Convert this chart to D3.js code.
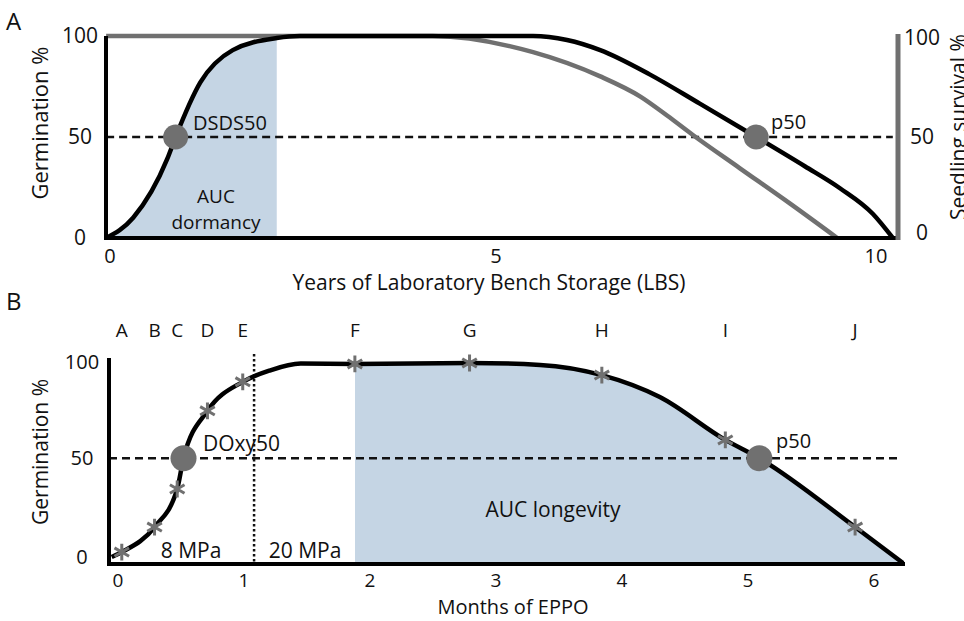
<!DOCTYPE html>
<html>
<head>
<meta charset="utf-8">
<script src="https://cdn.jsdelivr.net/npm/d3@7"></script>
<style>
  body { margin: 0; background: #fff; }
  text { font-family: "Open Sans", sans-serif; fill: #111; }
</style>
</head>
<body>
<div id="fig"></div>
<script>
// panel A : germination (black) and seedling survival (gray) vs years of LBS
var yearsGerm = [-0.05, 0.30, 0.74, 0.85, 1.17, 1.59, 2.16, 2.46, 5.48, 5.92, 6.35, 6.99, 7.64, 8.37, 9.0, 9.46, 9.88, 10.14];
var germA     = [0, 10, 39, 50, 77, 93, 99, 100, 100, 98, 93, 81, 66.5, 50, 35.5, 24.5, 12, 0];
var yearsSurv = [-0.05, 2.0, 4.18, 5.48, 6.35, 6.87, 7.22, 7.55, 8.16, 8.81, 9.42];
var survA     = [100, 100, 100, 92, 80, 70, 60.5, 51, 34.5, 17, 0];
var dsds50 = [0.85, 50];
var p50A = [8.37, 50];
var dormancyEnd = 2.16;
var xTicksA = [0, 5, 10];
var yTicks = [0, 50, 100];

// panel B : germination vs months of EPPO
var monthsB = [-0.05, 0.03, 0.29, 0.47, 0.52, 0.71, 0.99, 1.2, 1.45, 1.88, 2.79, 3.35, 3.84, 4.3, 4.82, 5.09, 5.85, 6.23];
var germB   = [-1.4, 1.2, 14.2, 34, 50, 74.6, 89.7, 95.5, 99.2, 99, 99.5, 98.5, 93.2, 81.8, 59.5, 50, 14.2, -4.5];
var sampleNames  = ["A", "B", "C", "D", "E", "F", "G", "H", "I", "J"];
var sampleMonths = [0.03, 0.29, 0.47, 0.71, 0.99, 1.88, 2.79, 3.84, 4.82, 5.85];
var sampleGerm   = [1.2, 14.2, 34, 74.6, 89.7, 99, 99.5, 93.2, 59.5, 14.2];
var doxy50 = [0.52, 50];
var p50B = [5.09, 50];
var mpaSwitch = 1.08;
var longevityStart = 1.88;
var xTicksB = [0, 1, 2, 3, 4, 5, 6];

var width = 964, height = 621;
var gray = "#707070", blue = "#c5d5e4";

var svg = d3.select("#fig").append("svg")
    .attr("width", width)
    .attr("height", height);

// ---------- panel A ----------
var xA = d3.scaleLinear().domain([0, 10]).range([110, 882]);
var yA = d3.scaleLinear().domain([0, 100]).range([238, 36]);

var lineA = d3.line().curve(d3.curveMonotoneX)
    .x(function(d){ return xA(d[0]); })
    .y(function(d){ return yA(d[1]); });
var areaA = d3.area().curve(d3.curveMonotoneX)
    .x(function(d){ return xA(d[0]); })
    .y0(yA(0))
    .y1(function(d){ return yA(d[1]); });

var germPtsA = d3.zip(yearsGerm, germA);
var survPts = d3.zip(yearsSurv, survA);

svg.append("clipPath").attr("id", "clipDorm")
    .append("rect")
    .attr("x", 0).attr("y", 0)
    .attr("width", xA(dormancyEnd)).attr("height", yA(0));

svg.append("path")
    .datum(germPtsA)
    .attr("d", areaA)
    .attr("fill", blue)
    .attr("clip-path", "url(#clipDorm)");

svg.append("line")
    .attr("x1", xA(-0.05)).attr("x2", xA(10.14))
    .attr("y1", yA(50)).attr("y2", yA(50))
    .attr("stroke", "#111").attr("stroke-width", 2.5)
    .attr("stroke-dasharray", "8,5");

svg.append("path")
    .datum(survPts)
    .attr("d", lineA)
    .attr("fill", "none")
    .attr("stroke", gray)
    .attr("stroke-width", 4.5);

svg.append("path")
    .datum(germPtsA)
    .attr("d", lineA)
    .attr("fill", "none")
    .attr("stroke", "#000")
    .attr("stroke-width", 4.5);

// axes of A
svg.append("line")
    .attr("x1", 106).attr("x2", 106)
    .attr("y1", yA(100)).attr("y2", yA(0) + 2)
    .attr("stroke", "#000").attr("stroke-width", 4);
svg.append("line")
    .attr("x1", 104).attr("x2", 900)
    .attr("y1", yA(0)).attr("y2", yA(0))
    .attr("stroke", "#000").attr("stroke-width", 4);
svg.append("line")
    .attr("x1", 898).attr("x2", 898)
    .attr("y1", yA(100) - 2).attr("y2", yA(0) + 2)
    .attr("stroke", gray).attr("stroke-width", 5);

svg.selectAll(".ytA").data(yTicks).enter().append("text")
    .attr("x", 80)
    .attr("y", function(d){ return yA(d); })
    .attr("dy", "0.35em")
    .attr("text-anchor", "middle")
    .style("font-size", "21px")
    .text(function(d){ return d; });

svg.selectAll(".ytR").data(yTicks).enter().append("text")
    .attr("x", 922)
    .attr("y", function(d){ return yA(d) - (d == 0 ? 5 : 0) + (d == 100 ? 2 : 0); })
    .attr("dy", "0.35em")
    .attr("text-anchor", "middle")
    .style("font-size", "21px")
    .text(function(d){ return d; });

svg.selectAll(".xtA").data(xTicksA).enter().append("text")
    .attr("x", function(d){ return xA(d) + (d == 10 ? -6 : 0); })
    .attr("y", 263)
    .attr("text-anchor", "middle")
    .style("font-size", "20px")
    .text(function(d){ return d; });

svg.append("text")
    .attr("x", 489).attr("y", 290)
    .attr("text-anchor", "middle")
    .style("font-size", "21px")
    .text("Years of Laboratory Bench Storage (LBS)");

svg.append("text")
    .attr("transform", "translate(48,123) rotate(-90)")
    .attr("text-anchor", "middle")
    .style("font-size", "22px")
    .text("Germination %");

svg.append("text")
    .attr("transform", "translate(966,220) rotate(-90)")
    .attr("text-anchor", "start")
    .style("font-size", "21px")
    .text("Seedling survival %");

svg.selectAll(".dotA").data([dsds50, p50A]).enter().append("circle")
    .attr("cx", function(d){ return xA(d[0]); })
    .attr("cy", function(d){ return yA(d[1]); })
    .attr("r", 12.5)
    .attr("fill", gray);

svg.append("text").attr("x", 193).attr("y", 130)
    .style("font-size", "20px").text("DSDS50");
svg.append("text").attr("x", 771).attr("y", 129)
    .style("font-size", "20px").text("p50");
svg.append("text").attr("x", 216).attr("y", 203)
    .attr("text-anchor", "middle")
    .style("font-size", "19px").text("AUC");
svg.append("text").attr("x", 216).attr("y", 229)
    .attr("text-anchor", "middle")
    .style("font-size", "19px").text("dormancy");

svg.append("text").attr("x", 6).attr("y", 30)
    .style("font-size", "24px").text("A");

// ---------- panel B ----------
var xB = d3.scaleLinear().domain([0, 6]).range([118, 874]);
var yB = d3.scaleLinear().domain([-5, 100]).range([564, 362]);

var lineB = d3.line().curve(d3.curveMonotoneX)
    .x(function(d){ return xB(d[0]); })
    .y(function(d){ return yB(d[1]); });
var areaB = d3.area().curve(d3.curveMonotoneX)
    .x(function(d){ return xB(d[0]); })
    .y0(yB(-5))
    .y1(function(d){ return yB(d[1]); });

var germPtsB = d3.zip(monthsB, germB);

svg.append("clipPath").attr("id", "clipLong")
    .append("rect")
    .attr("x", xB(longevityStart)).attr("y", 300)
    .attr("width", width - xB(longevityStart)).attr("height", yB(-5) - 300);

svg.append("path")
    .datum(germPtsB)
    .attr("d", areaB)
    .attr("fill", blue)
    .attr("clip-path", "url(#clipLong)");

svg.append("line")
    .attr("x1", 109).attr("x2", 897)
    .attr("y1", yB(50)).attr("y2", yB(50))
    .attr("stroke", "#111").attr("stroke-width", 2.5)
    .attr("stroke-dasharray", "8,5");

svg.append("line")
    .attr("x1", xB(mpaSwitch)).attr("x2", xB(mpaSwitch))
    .attr("y1", 354).attr("y2", yB(-5))
    .attr("stroke", "#111").attr("stroke-width", 2.5)
    .attr("stroke-dasharray", "2.5,2.5");

svg.append("path")
    .datum(germPtsB)
    .attr("d", lineB)
    .attr("fill", "none")
    .attr("stroke", "#000")
    .attr("stroke-width", 4.5);

svg.append("line")
    .attr("x1", 109).attr("x2", 109)
    .attr("y1", 358).attr("y2", yB(-5) + 2)
    .attr("stroke", "#000").attr("stroke-width", 4);
svg.append("line")
    .attr("x1", 107).attr("x2", 905)
    .attr("y1", yB(-5)).attr("y2", yB(-5))
    .attr("stroke", "#000").attr("stroke-width", 4);

var star = d3.symbol().type(d3.symbolAsterisk).size(200);
svg.selectAll(".star").data(d3.zip(sampleMonths, sampleGerm)).enter().append("path")
    .attr("transform", function(d){ return "translate(" + xB(d[0]) + "," + yB(d[1]) + ")"; })
    .attr("d", star)
    .attr("fill", "none")
    .attr("stroke", gray)
    .attr("stroke-width", 3);

svg.selectAll(".dotB").data([doxy50, p50B]).enter().append("circle")
    .attr("cx", function(d){ return xB(d[0]); })
    .attr("cy", function(d){ return yB(d[1]); })
    .attr("r", 13)
    .attr("fill", gray);

svg.selectAll(".sname").data(d3.zip(sampleNames, sampleMonths)).enter().append("text")
    .attr("x", function(d){ return xB(d[1]); })
    .attr("y", 337)
    .attr("text-anchor", "middle")
    .style("font-size", "19px")
    .text(function(d){ return d[0]; });

svg.selectAll(".ytB").data(yTicks).enter().append("text")
    .attr("x", 82)
    .attr("y", function(d){ return yB(d) + (d == 0 ? 3 : 0); })
    .attr("dy", "0.35em")
    .attr("text-anchor", "middle")
    .style("font-size", "20px")
    .text(function(d){ return d; });

svg.selectAll(".xtB").data(xTicksB).enter().append("text")
    .attr("x", function(d){ return xB(d); })
    .attr("y", 587)
    .attr("text-anchor", "middle")
    .style("font-size", "19px")
    .text(function(d){ return d; });

svg.append("text")
    .attr("x", 513).attr("y", 614)
    .attr("text-anchor", "middle")
    .style("font-size", "20px")
    .text("Months of EPPO");

svg.append("text")
    .attr("transform", "translate(48,452) rotate(-90)")
    .attr("text-anchor", "middle")
    .style("font-size", "21px")
    .text("Germination %");

svg.append("text").attr("x", 203).attr("y", 451)
    .style("font-size", "21px").text("DOxy50");
svg.append("text").attr("x", 776).attr("y", 448)
    .style("font-size", "20px").text("p50");
svg.append("text").attr("x", 191).attr("y", 558)
    .attr("text-anchor", "middle")
    .style("font-size", "21px").text("8 MPa");
svg.append("text").attr("x", 305).attr("y", 558)
    .attr("text-anchor", "middle")
    .style("font-size", "21px").text("20 MPa");
svg.append("text").attr("x", 553).attr("y", 517)
    .attr("text-anchor", "middle")
    .style("font-size", "21px").text("AUC longevity");

svg.append("text").attr("x", 6).attr("y", 310)
    .style("font-size", "24px").text("B");
</script>
</body>
</html>
